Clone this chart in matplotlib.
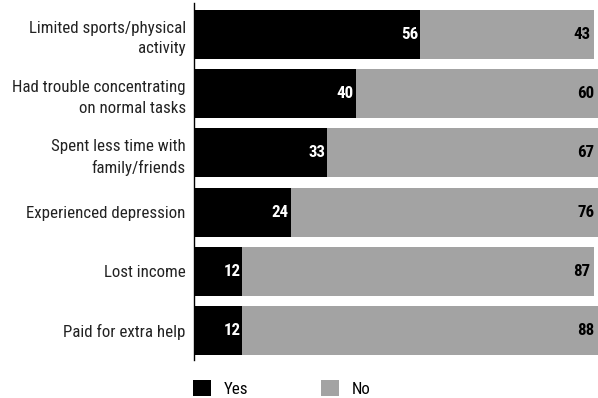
import matplotlib
matplotlib.use("Agg")
import matplotlib.pyplot as plt
from matplotlib import font_manager as fm

categories = ["Limited sports/physical\nactivity",
              "Had trouble concentrating\non normal tasks",
              "Spent less time with\nfamily/friends",
              "Experienced depression",
              "Lost income",
              "Paid for extra help"]
yes_vals = [56, 40, 33, 24, 12, 12]
no_vals = [43, 60, 67, 76, 87, 88]

names = {f.name for f in fm.fontManager.ttflist}
fam = "Liberation Sans Narrow" if "Liberation Sans Narrow" in names else ("Roboto Condensed" if "Roboto Condensed" in names else "DejaVu Sans")
plt.rcParams['font.family'] = [fam, 'DejaVu Sans']

FS = 12.2
W, H = 598, 398
fig = plt.figure(figsize=(W/100, H/100), dpi=100)
ax = fig.add_axes([194/W, 1-360/H, 404/W, 357/H])

ypos = list(range(len(categories)))
GRAY = "#a3a3a3"
b1 = ax.barh(ypos, yes_vals, height=0.83, color="black", label="Yes")
b2 = ax.barh(ypos, no_vals, left=yes_vals, height=0.83, color=GRAY, label="No")

for i, (y, n) in enumerate(zip(yes_vals, no_vals)):
    ax.annotate(str(y), (y, i), xytext=(-1.5, 0), textcoords="offset points",
                ha="right", va="center", color="white", fontsize=FS, fontweight="bold")
    ax.annotate(str(n), (y+n, i), xytext=(-2.5, 0), textcoords="offset points",
                ha="right", va="center", color="black", fontsize=FS, fontweight="bold")

ax.set_xlim(0, 100)
ax.set_ylim(5.498, -0.532)
ax.set_yticks(ypos)
ax.set_yticklabels(categories, fontsize=FS, color="#222222")
for t in ax.get_yticklabels():
    t.set_multialignment("right")
    t.set_linespacing(1.45)
ax.tick_params(axis="y", length=0, pad=6)
ax.set_xticks([])
for s in ["top", "right", "bottom"]:
    ax.spines[s].set_visible(False)
ax.spines["left"].set_linewidth(1.0)
ax.spines["left"].set_color("black")

fig.legend(handles=[b1, b2], labels=["Yes", "No"], loc="upper left",
           bbox_to_anchor=(193/W, 1-380/H), ncol=2, frameon=False,
           fontsize=FS, handlelength=1.07, handleheight=1.07,
           handletextpad=0.75, columnspacing=4.3, borderpad=0, borderaxespad=0)

fig.savefig("out.png", dpi=100)
